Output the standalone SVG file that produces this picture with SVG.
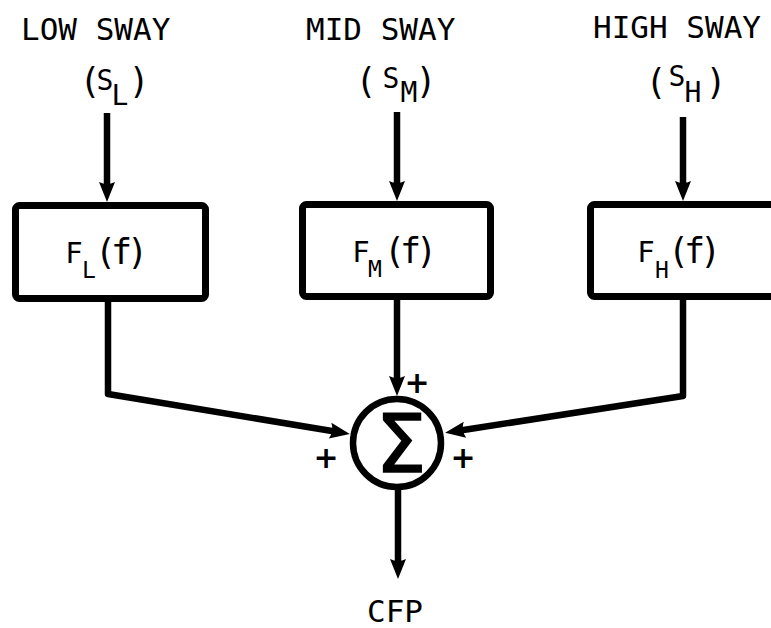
<svg xmlns="http://www.w3.org/2000/svg" width="771" height="628" viewBox="0 0 771 628">
<style>
.lbl{font-family:"DejaVu Sans Mono","Liberation Mono",monospace;font-size:31px;fill:#000}
.sub{font-family:"DejaVu Sans Mono","Liberation Mono",monospace;font-size:28px;fill:#000}
.par{font-size:35px}
.pf{font-size:35px;letter-spacing:-5px}
.box{fill:none;stroke:#000;stroke-width:7}
.ln{fill:none;stroke:#000;stroke-width:6.5;stroke-linejoin:round}
.plus{font-family:"DejaVu Sans","Liberation Sans",sans-serif;font-weight:bold;font-size:30px;fill:#000}
.sig{font-family:"DejaVu Sans","Liberation Sans",sans-serif;font-size:80px;fill:#000;stroke:#000;stroke-width:1.5}
</style>
<defs>
<marker id="ah" markerUnits="userSpaceOnUse" viewBox="-12 -10 26 20" refX="0" refY="0" markerWidth="26" markerHeight="20" orient="auto" overflow="visible">
<path d="M-8,-8 L12,0 L-8,8 Q-4,0 -8,-8 Z" fill="#000"/>
</marker>
</defs>
<rect width="771" height="628" fill="#fff"/>

<g id="low-label">
<text class="lbl" x="21" y="40">LOW SWAY</text>
<text class="sub" y="93" text-anchor="middle"><tspan class="par" x="90">(</tspan><tspan x="105" y="90">S</tspan><tspan x="120" y="105">L</tspan><tspan class="par" x="139" y="93">)</tspan></text>
</g>
<g id="mid-label">
<text class="lbl" x="306" y="40">MID SWAY</text>
<text class="sub" y="93" text-anchor="middle"><tspan class="par" x="366">(</tspan><tspan x="391" y="88">S</tspan><tspan x="409" y="102">M</tspan><tspan class="par" x="426" y="93">)</tspan></text>
</g>
<g id="high-label">
<text class="lbl" x="593" y="38">HIGH SWAY</text>
<text class="sub" y="94" text-anchor="middle"><tspan class="par" x="656">(</tspan><tspan x="677" y="86">S</tspan><tspan x="693" y="102">H</tspan><tspan class="par" x="716" y="94">)</tspan></text>
</g>

<g id="box-low">
<rect class="box" x="15.5" y="205.5" width="190" height="93" rx="4"/>
<text class="sub" y="263" text-anchor="middle"><tspan x="74" font-size="29">F</tspan><tspan x="89" y="278" font-size="23">L</tspan><tspan class="pf" x="119" y="264">(f)</tspan></text>
</g>
<g id="box-mid">
<rect class="box" x="302.5" y="204.5" width="188" height="92" rx="4"/>
<text class="sub" y="262" text-anchor="middle"><tspan x="361" font-size="29">F</tspan><tspan x="375" y="277" font-size="23">M</tspan><tspan class="pf" x="408" y="263">(f)</tspan></text>
</g>
<g id="box-high">
<rect class="box" x="590.5" y="204.5" width="200" height="92" rx="4"/>
<text class="sub" y="262" text-anchor="middle"><tspan x="646" font-size="29">F</tspan><tspan x="662" y="278" font-size="23">H</tspan><tspan class="pf" x="692" y="263">(f)</tspan></text>
</g>

<g id="sum">
<circle cx="397" cy="443" r="44" fill="none" stroke="#000" stroke-width="6.5"/>
<text class="sig" x="401" y="472" text-anchor="middle">Σ</text>
</g>

<g id="cfp">
<text class="lbl" x="395" y="622" text-anchor="middle">CFP</text>
</g>

<g id="connectors">
<path class="ln" d="M107,113 L107,190" marker-end="url(#ah)"/>
<path class="ln" d="M397,112 L397,189" marker-end="url(#ah)"/>
<path class="ln" d="M683,117 L683,189" marker-end="url(#ah)"/>
<path class="ln" d="M397,300 L397,384" marker-end="url(#ah)"/>
<path class="ln" d="M108,300 L108,394 L338,432" marker-end="url(#ah)"/>
<path class="ln" d="M683,300 L683,396 L457,431" marker-end="url(#ah)"/>
<path class="ln" d="M398,489 L398,567" marker-end="url(#ah)"/>
</g>

<g id="signs">
<text class="plus" x="417" y="393" text-anchor="middle">+</text>
<text class="plus" x="326" y="468" text-anchor="middle">+</text>
<text class="plus" x="463" y="468" text-anchor="middle">+</text>
</g>
</svg>
